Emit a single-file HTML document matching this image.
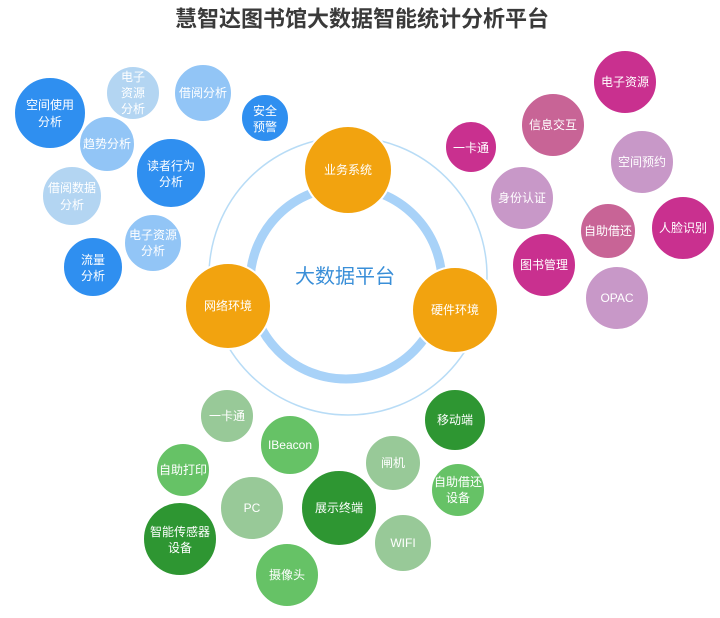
<!DOCTYPE html>
<html><head><meta charset="utf-8"><style>
html,body{margin:0;padding:0;background:#fff;}
svg text{font-family:"Liberation Sans","Noto Sans CJK SC",sans-serif;fill:#fff;text-anchor:middle;dominant-baseline:central;font-size:12px;}
</style></head><body>
<svg width="720" height="613" viewBox="0 0 720 613" xmlns="http://www.w3.org/2000/svg">
<text x="362" y="19" style="fill:#3a3a3a;font-size:22px;font-weight:bold;">慧智达图书馆大数据智能统计分析平台</text>
<circle cx="348" cy="276" r="139" fill="none" stroke="#b8dcf6" stroke-width="1.5"/>
<circle cx="346" cy="283" r="96" fill="none" stroke="#a8d2f8" stroke-width="9"/>
<text x="345" y="277" style="fill:#3a8fd8;font-size:20px;">大数据平台</text>
<g stroke="#fff" stroke-width="2">
<circle cx="348" cy="170" r="44" fill="#f2a30f"/>
<circle cx="228" cy="306" r="43" fill="#f2a30f"/>
<circle cx="455" cy="310" r="43" fill="#f2a30f"/>
<!-- left blue -->
<circle cx="50" cy="113" r="36" fill="#2f8ff0"/>
<circle cx="133" cy="93" r="27" fill="#b3d5f2"/>
<circle cx="203" cy="93" r="29" fill="#92c5f6"/>
<circle cx="265" cy="118" r="24" fill="#2f8ff0"/>
<circle cx="107" cy="144" r="28" fill="#92c5f6"/>
<circle cx="171" cy="173" r="35" fill="#2f8ff0"/>
<circle cx="72" cy="196" r="30" fill="#b3d5f2"/>
<circle cx="153" cy="243" r="29" fill="#92c5f6"/>
<circle cx="93" cy="267" r="30" fill="#2f8ff0"/>
<!-- right pink -->
<circle cx="625" cy="82" r="32" fill="#c9308f"/>
<circle cx="553" cy="125" r="32" fill="#c86496"/>
<circle cx="471" cy="147" r="26" fill="#c9308f"/>
<circle cx="642" cy="162" r="32" fill="#c898c8"/>
<circle cx="522" cy="198" r="32" fill="#c898c8"/>
<circle cx="608" cy="231" r="28" fill="#c86496"/>
<circle cx="683" cy="228" r="32" fill="#c9308f"/>
<circle cx="544" cy="265" r="32" fill="#c9308f"/>
<circle cx="617" cy="298" r="32" fill="#c898c8"/>
<!-- bottom green -->
<circle cx="227" cy="416" r="27" fill="#98c998"/>
<circle cx="290" cy="445" r="30" fill="#66c266"/>
<circle cx="455" cy="420" r="31" fill="#2e9632"/>
<circle cx="393" cy="463" r="28" fill="#98c998"/>
<circle cx="183" cy="470" r="27" fill="#66c266"/>
<circle cx="458" cy="490" r="27" fill="#66c266"/>
<circle cx="252" cy="508" r="32" fill="#98c998"/>
<circle cx="339" cy="508" r="38" fill="#2e9632"/>
<circle cx="180" cy="539" r="37" fill="#2e9632"/>
<circle cx="403" cy="543" r="29" fill="#98c998"/>
<circle cx="287" cy="575" r="32" fill="#66c266"/>
</g>
<text x="348" y="170">业务系统</text>
<text x="228" y="306">网络环境</text>
<text x="455" y="310">硬件环境</text>

<text x="50" y="105">空间使用</text><text x="50" y="122">分析</text>
<text x="133" y="77">电子</text><text x="133" y="93">资源</text><text x="133" y="109">分析</text>
<text x="203" y="93">借阅分析</text>
<text x="265" y="111">安全</text><text x="265" y="127">预警</text>
<text x="107" y="144">趋势分析</text>
<text x="171" y="166">读者行为</text><text x="171" y="182">分析</text>
<text x="72" y="188">借阅数据</text><text x="72" y="205">分析</text>
<text x="153" y="235">电子资源</text><text x="153" y="251">分析</text>
<text x="93" y="260">流量</text><text x="93" y="276">分析</text>

<text x="625" y="82">电子资源</text>
<text x="553" y="125">信息交互</text>
<text x="471" y="148">一卡通</text>
<text x="642" y="162">空间预约</text>
<text x="522" y="198">身份认证</text>
<text x="608" y="231">自助借还</text>
<text x="683" y="228">人脸识别</text>
<text x="544" y="265">图书管理</text>
<text x="617" y="298">OPAC</text>

<text x="227" y="416">一卡通</text>
<text x="290" y="445">IBeacon</text>
<text x="455" y="420">移动端</text>
<text x="393" y="463">闸机</text>
<text x="183" y="470">自助打印</text>
<text x="458" y="482">自助借还</text><text x="458" y="498">设备</text>
<text x="252" y="508">PC</text>
<text x="339" y="508">展示终端</text>
<text x="180" y="532">智能传感器</text><text x="180" y="548">设备</text>
<text x="403" y="543">WIFI</text>
<text x="287" y="575">摄像头</text>
</svg>
</body></html>
